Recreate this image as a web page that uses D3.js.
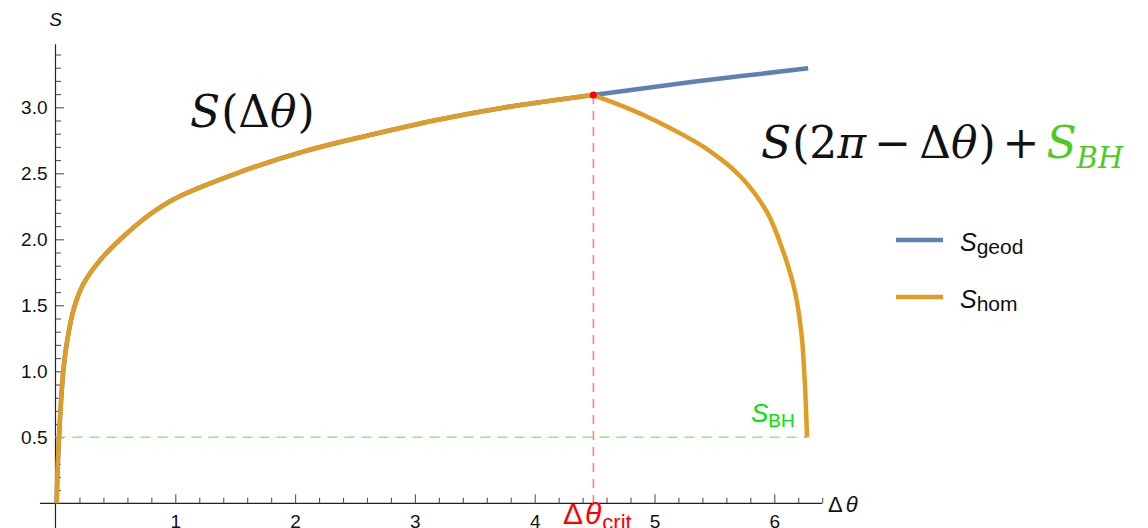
<!DOCTYPE html>
<html>
<head>
<meta charset="utf-8">
<script src="https://cdn.jsdelivr.net/npm/d3@7"></script>
<style>
  html, body { margin: 0; padding: 0; background: #fff; }
  svg { display: block; }
  .tick text { font-family: "Liberation Sans", Arial, sans-serif; fill: #111; }
</style>
</head>
<body>
<svg id="chart" width="1148" height="528"></svg>
<script>
// Entanglement entropy of an interval of angular size Δθ
// Geodesic branch S(Δθ)
const thetaGeod = [0.010, 0.016, 0.029, 0.046, 0.065, 0.099, 0.155, 0.232, 0.371, 0.553, 0.789, 1.000, 1.512, 2.068, 2.625, 3.182, 3.738, 4.490, 5.324, 6.283];
const sGeod     = [0.000, 0.220, 0.500, 0.770, 1.000, 1.240, 1.480, 1.660, 1.840, 2.010, 2.190, 2.310, 2.500, 2.664, 2.790, 2.904, 2.997, 3.093, 3.194, 3.295];

// Homology branch: follows S(Δθ) up to the critical angle, then S(2π−Δθ)+S_BH
const thetaHomLeft = [0.010, 0.016, 0.029, 0.046, 0.065, 0.099, 0.155, 0.232, 0.371, 0.553, 0.789, 1.000, 1.512, 2.068, 2.625, 3.182, 3.738, 4.490];
const sHomLeft     = [0.000, 0.220, 0.500, 0.770, 1.000, 1.240, 1.480, 1.660, 1.840, 2.010, 2.190, 2.310, 2.500, 2.664, 2.790, 2.904, 2.997, 3.093];
const thetaHomRight = [4.490, 4.750, 5.018, 5.230, 5.436, 5.714, 5.937, 6.075, 6.173, 6.228, 6.256, 6.273];
const sHomRight     = [3.093, 3.003, 2.895, 2.795, 2.685, 2.480, 2.209, 1.906, 1.603, 1.275, 0.896, 0.500];

// Critical point and black hole entropy
const thetaCrit = 4.490;
const sCrit = 3.093;
const sBH = 0.5;
const thetaMax = 6.273;

// Axis ticks
const xMajor = [1, 2, 3, 4, 5, 6];
const xMinor = d3.range(1, 33).map(i => +(i * 0.2).toFixed(1)).filter(v => !xMajor.includes(v));
const yMajor = [0.5, 1.0, 1.5, 2.0, 2.5, 3.0];
const yMinor = d3.range(1, 35).map(i => +(i * 0.1).toFixed(1)).filter(v => !yMajor.some(m => Math.abs(m - v) < 1e-9));
const yTickLabels = ["0.5", "1.0", "1.5", "2.0", "2.5", "3.0"];

const legendItems = [
  { sub: "geod", color: "#5e81b5" },
  { sub: "hom",  color: "#e19c24" }
];

const svg = d3.select("#chart");
const x = d3.scaleLinear().domain([0, 6.4]).range([55.5, 822.2]);
const y = d3.scaleLinear().domain([0, 3.4]).range([503.3, 54.5]);

const axisColor = "#222";
const tickColor = "#555";
const sansFont = "Liberation Sans, Arial, sans-serif";
const mathFont = "DejaVu Serif, Liberation Serif, serif";

// Axis lines
svg.append("line")
  .attr("x1", x(-0.13)).attr("x2", x(6.4))
  .attr("y1", y(0)).attr("y2", y(0))
  .attr("stroke", axisColor).attr("stroke-width", 1.2);
svg.append("line")
  .attr("x1", x(0)).attr("x2", x(0))
  .attr("y1", y(3.477)).attr("y2", 528)
  .attr("stroke", axisColor).attr("stroke-width", 1.2);

// x-axis ticks (pointing up, labels below)
const gxMinor = svg.append("g").attr("transform", `translate(0,${y(0)})`)
  .call(d3.axisBottom(x).tickValues(xMinor).tickSizeInner(-5.5).tickSizeOuter(0).tickFormat(""));
const gxMajor = svg.append("g").attr("transform", `translate(0,${y(0)})`)
  .call(d3.axisBottom(x).tickValues(xMajor).tickSizeInner(-9).tickSizeOuter(0).tickPadding(11).tickFormat(d3.format("d")));
[gxMinor, gxMajor].forEach(g => {
  g.select(".domain").remove();
  g.selectAll(".tick line").attr("stroke", tickColor).attr("stroke-width", 1.1);
});
gxMajor.selectAll(".tick text").attr("font-size", 19);

// y-axis ticks (pointing right, labels left)
const gyMinor = svg.append("g").attr("transform", `translate(${x(0)},0)`)
  .call(d3.axisLeft(y).tickValues(yMinor).tickSizeInner(-5.5).tickSizeOuter(0).tickFormat(""));
const gyMajor = svg.append("g").attr("transform", `translate(${x(0)},0)`)
  .call(d3.axisLeft(y).tickValues(yMajor).tickSizeInner(-8.5).tickSizeOuter(0).tickPadding(8)
    .tickFormat((d, i) => yTickLabels[i]));
[gyMinor, gyMajor].forEach(g => {
  g.select(".domain").remove();
  g.selectAll(".tick line").attr("stroke", tickColor).attr("stroke-width", 1.1);
});
gyMajor.selectAll(".tick text").attr("font-size", 19);

// Axis labels
svg.append("text").attr("x", x(0)).attr("y", 26)
  .attr("text-anchor", "middle")
  .attr("font-family", sansFont)
  .attr("font-style", "italic").attr("font-size", 19).attr("fill", "#111")
  .text("S");
svg.append("text").attr("x", 828).attr("y", 512)
  .attr("font-family", sansFont)
  .attr("font-size", 22).attr("fill", "#111")
  .call(t => {
    t.append("tspan").text("Δ");
    t.append("tspan").attr("font-style", "italic").attr("dx", 3).text("θ");
  });

// Reference lines
svg.append("line")
  .attr("x1", x(0)).attr("x2", x(thetaMax))
  .attr("y1", y(sBH)).attr("y2", y(sBH))
  .attr("stroke", "#80f080").attr("stroke-width", 1.6)
  .attr("stroke-dasharray", "10,7");
svg.append("line")
  .attr("x1", x(thetaCrit)).attr("x2", x(thetaCrit))
  .attr("y1", y(sCrit)).attr("y2", y(0))
  .attr("stroke", "#ff8080").attr("stroke-width", 1.6)
  .attr("stroke-dasharray", "9,7");

// Curves
const line = d3.line().x(d => x(d[0])).y(d => y(d[1])).curve(d3.curveCatmullRom.alpha(0.5));
const zip = (a, b) => a.map((v, i) => [v, b[i]]);

svg.append("path")
  .attr("d", line(zip(thetaGeod, sGeod)))
  .attr("fill", "none").attr("stroke", legendItems[0].color)
  .attr("stroke-width", 4.5).attr("stroke-linecap", "butt");

[zip(thetaHomLeft, sHomLeft), zip(thetaHomRight, sHomRight)].forEach(seg => {
  svg.append("path")
    .attr("d", line(seg))
    .attr("fill", "none").attr("stroke", legendItems[1].color)
    .attr("stroke-width", 4.5).attr("stroke-linecap", "butt").attr("stroke-linejoin", "round");
});

// Critical point
svg.append("circle")
  .attr("cx", x(thetaCrit)).attr("cy", y(sCrit)).attr("r", 3.6)
  .attr("fill", "#ff0000");

// Formula annotations
svg.append("text").attr("x", 190).attr("y", 127)
  .attr("font-family", mathFont).attr("font-size", 44).attr("fill", "#111")
  .call(t => {
    t.append("tspan").attr("font-style", "italic").text("S");
    t.append("tspan").attr("dx", 1).text("(Δ");
    t.append("tspan").attr("font-style", "italic").text("θ");
    t.append("tspan").attr("dx", 1).text(")");
  });

svg.append("text").attr("x", 761).attr("y", 158)
  .attr("font-family", mathFont).attr("font-size", 44).attr("fill", "#111")
  .call(t => {
    t.append("tspan").attr("font-style", "italic").text("S");
    t.append("tspan").attr("dx", 1).text("(2");
    t.append("tspan").attr("font-style", "italic").text("π");
    t.append("tspan").attr("dx", 8).text("−");
    t.append("tspan").attr("dx", 8).text("Δ");
    t.append("tspan").attr("font-style", "italic").text("θ");
    t.append("tspan").attr("dx", 1).text(")");
    t.append("tspan").attr("dx", 7).text("+");
    t.append("tspan").attr("dx", 7).attr("font-style", "italic").attr("fill", "#4dcc1f").text("S");
    t.append("tspan").attr("font-style", "italic").attr("fill", "#4dcc1f")
      .attr("font-size", 29).attr("dy", 10).text("BH");
  });

// S_BH label near the dashed line
svg.append("text").attr("x", 751).attr("y", 422)
  .attr("font-family", sansFont).attr("fill", "#00e600")
  .call(t => {
    t.append("tspan").attr("font-style", "italic").attr("font-size", 26).text("S");
    t.append("tspan").attr("font-size", 19).attr("dy", 5).text("BH");
  });

// Δθ_crit label under the axis
svg.append("text").attr("x", 563).attr("y", 524)
  .attr("font-family", sansFont).attr("fill", "#ff0000")
  .call(t => {
    t.append("tspan").attr("font-size", 30).text("Δ");
    t.append("tspan").attr("font-size", 30).attr("font-style", "italic").attr("dx", 2).text("θ");
    t.append("tspan").attr("font-size", 22).attr("dx", 1).attr("dy", 6).text("crit");
  });

// Legend
const legend = svg.append("g").attr("transform", "translate(896,240)");
legendItems.forEach((item, i) => {
  const row = legend.append("g").attr("transform", `translate(0,${i * 57})`);
  row.append("line").attr("x1", 0).attr("x2", 47).attr("y1", 0).attr("y2", 0)
    .attr("stroke", item.color).attr("stroke-width", 4.5);
  row.append("text").attr("x", 64).attr("y", 11)
    .attr("font-family", sansFont).attr("fill", "#111")
    .call(t => {
      t.append("tspan").attr("font-style", "italic").attr("font-size", 25).text("S");
      t.append("tspan").attr("font-size", 21).attr("dy", 3).text(item.sub);
    });
});
</script>
</body>
</html>
